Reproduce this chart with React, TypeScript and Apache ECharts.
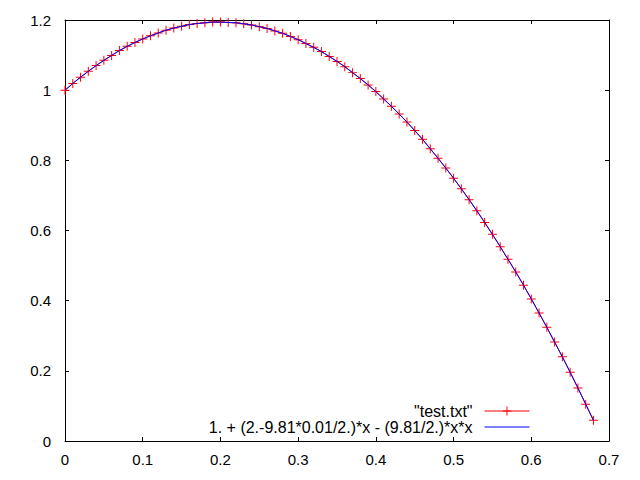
import React, { useEffect, useRef } from "react";
import * as echarts from "echarts";

// time steps (0.01 apart)
const xs = [
  0, 0.01, 0.02, 0.03, 0.04, 0.05, 0.06, 0.07, 0.08, 0.09,
  0.1, 0.11, 0.12, 0.13, 0.14, 0.15, 0.16, 0.17, 0.18, 0.19,
  0.2, 0.21, 0.22, 0.23, 0.24, 0.25, 0.26, 0.27, 0.28, 0.29,
  0.3, 0.31, 0.32, 0.33, 0.34, 0.35, 0.36, 0.37, 0.38, 0.39,
  0.4, 0.41, 0.42, 0.43, 0.44, 0.45, 0.46, 0.47, 0.48, 0.49,
  0.5, 0.51, 0.52, 0.53, 0.54, 0.55, 0.56, 0.57, 0.58, 0.59,
  0.6, 0.61, 0.62, 0.63, 0.64, 0.65, 0.66, 0.67, 0.68,
];

// "test.txt" heights
const ys = [
  1.0, 1.019, 1.037, 1.054, 1.07, 1.085, 1.099, 1.113, 1.125, 1.136,
  1.146, 1.155, 1.163, 1.171, 1.177, 1.182, 1.187, 1.19, 1.192, 1.194,
  1.194, 1.193, 1.192, 1.189, 1.186, 1.181, 1.176, 1.169, 1.162, 1.153,
  1.144, 1.133, 1.122, 1.11, 1.096, 1.082, 1.067, 1.05, 1.033, 1.015,
  0.996, 0.975, 0.954, 0.932, 0.909, 0.885, 0.86, 0.833, 0.806, 0.778,
  0.749, 0.719, 0.688, 0.656, 0.623, 0.589, 0.554, 0.518, 0.482, 0.444,
  0.405, 0.365, 0.324, 0.282, 0.24, 0.196, 0.151, 0.105, 0.059,
];

const dataName = '"test.txt"';
const fitName = "1. + (2.-9.81*0.01/2.)*x - (9.81/2.)*x*x";

const xTicks = { min: 0, max: 0.7, interval: 0.1 };
const yTicks = { min: 0, max: 1.2, interval: 0.2 };

const FONT = "Liberation Sans, Arial, sans-serif";
const plus = "path://M0,4H9V5H0Z M4,0H5V9H4Z";

const App: React.FC = () => {
  const chartRef = useRef<HTMLDivElement>(null);

  useEffect(() => {
    const chart = echarts.init(chartRef.current!, undefined, { renderer: "svg" });
    const points = xs.map((x, i) => [x, ys[i]]);

    const tick = { show: true, inside: true, length: 4, lineStyle: { color: "#000", width: 1 } };
    const line = { show: true, onZero: false, lineStyle: { color: "#000", width: 1 } };
    const label = { color: "#000", fontSize: 15, fontFamily: FONT };

    const option: echarts.EChartsOption = {
      animation: false,
      backgroundColor: "#fff",
      grid: { left: 65, right: 31, top: 20, bottom: 39 },
      legend: {
        orient: "vertical",
        align: "right",
        right: 105,
        top: 398,
        itemWidth: 45,
        itemHeight: 11,
        itemGap: 0,
        selectedMode: false,
        lineStyle: { width: 1 },
        textStyle: { color: "#000", fontSize: 16, fontFamily: FONT, padding: [0, 7, 0, 0] },
        data: [
          { name: dataName },
          { name: fitName, itemStyle: { color: "rgba(0,0,0,0)", borderWidth: 0 } },
        ],
      },
      xAxis: [
        {
          type: "value",
          position: "bottom",
          ...xTicks,
          axisLine: line,
          axisTick: tick,
          splitLine: { show: false },
          axisLabel: { ...label, margin: 11 },
        },
        {
          type: "value",
          position: "top",
          ...xTicks,
          axisLine: line,
          axisTick: tick,
          splitLine: { show: false },
          axisLabel: { show: false },
        },
      ],
      yAxis: [
        {
          type: "value",
          position: "left",
          ...yTicks,
          axisLine: line,
          axisTick: tick,
          splitLine: { show: false },
          axisLabel: { ...label, margin: 14 },
        },
        {
          type: "value",
          position: "right",
          ...yTicks,
          axisLine: line,
          axisTick: tick,
          splitLine: { show: false },
          axisLabel: { show: false },
        },
      ],
      series: [
        {
          name: dataName,
          type: "line",
          data: points,
          symbol: plus,
          symbolSize: 9,
          showAllSymbol: true,
          color: "#ff0000",
          itemStyle: { color: "#ff0000" },
          lineStyle: { color: "#ff0000", width: 1 },
          z: 2,
        },
        {
          name: fitName,
          type: "line",
          data: points,
          symbol: "none",
          color: "#0000ff",
          lineStyle: { color: "#0000ff", width: 1 },
          z: 3,
        },
      ],
    };

    chart.setOption(option);
    return () => {
      chart.dispose();
    };
  }, []);

  return <div ref={chartRef} style={{ width: 640, height: 480, margin: -8 }} />;
};

export default App;
